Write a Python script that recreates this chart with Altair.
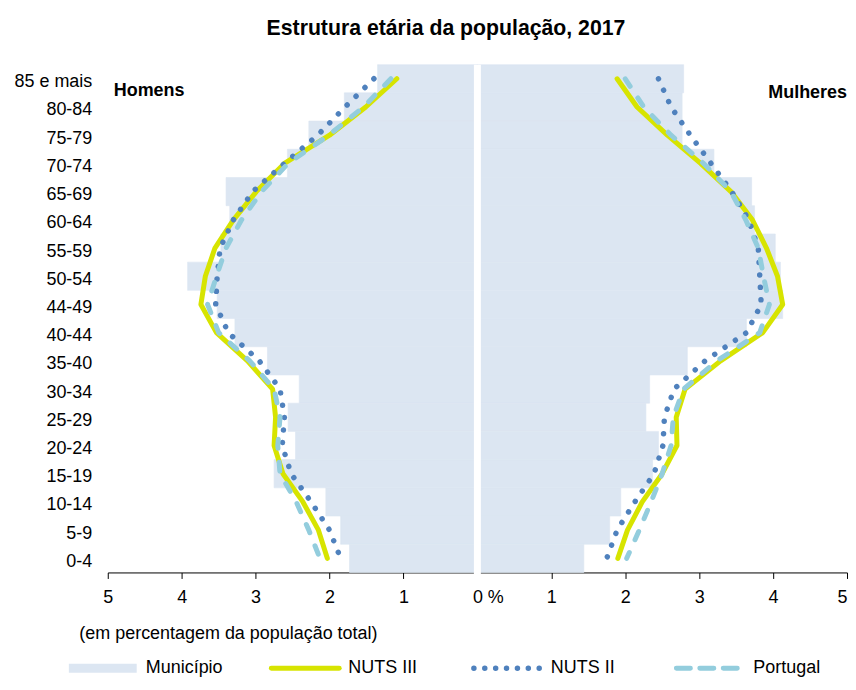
import altair as alt
import pandas as pd

ages = ["85 e mais", "80-84", "75-79", "70-74", "65-69", "60-64", "55-59", "50-54",
        "44-49", "40-44", "35-40", "30-34", "25-29", "20-24", "15-19", "10-14", "5-9", "0-4"]

homens_municipio = [1.35, 1.80, 2.28, 2.57, 3.40, 3.35, 3.47, 3.92, 3.52, 3.28, 2.84, 2.41, 2.56, 2.46, 2.75, 2.05, 1.85, 1.73]
homens_nuts3 = [1.09, 1.51, 2.00, 2.61, 2.99, 3.30, 3.55, 3.68, 3.74, 3.53, 3.11, 2.77, 2.73, 2.75, 2.63, 2.36, 2.15, 2.03]
homens_nuts2 = [1.40, 1.79, 2.16, 2.61, 3.04, 3.30, 3.48, 3.52, 3.54, 3.37, 2.95, 2.67, 2.61, 2.64, 2.52, 2.25, 2.00, 1.85]
homens_portugal = [1.17, 1.54, 2.01, 2.56, 2.92, 3.19, 3.40, 3.53, 3.65, 3.50, 3.08, 2.75, 2.67, 2.70, 2.67, 2.45, 2.28, 2.13]

mulheres_municipio = [2.79, 2.77, 2.77, 3.20, 3.71, 3.75, 4.03, 4.10, 4.13, 3.64, 2.84, 2.33, 2.28, 2.45, 2.37, 1.94, 1.79, 1.44]
mulheres_nuts3 = [1.89, 2.16, 2.57, 3.02, 3.43, 3.72, 3.91, 4.06, 4.13, 3.86, 3.29, 2.81, 2.69, 2.70, 2.50, 2.23, 2.03, 1.90]
mulheres_nuts2 = [2.45, 2.62, 2.88, 3.16, 3.44, 3.67, 3.80, 3.82, 3.84, 3.64, 3.08, 2.66, 2.53, 2.51, 2.39, 2.13, 1.89, 1.75]
mulheres_portugal = [2.00, 2.25, 2.62, 3.06, 3.43, 3.63, 3.80, 3.87, 3.95, 3.82, 3.24, 2.79, 2.65, 2.62, 2.50, 2.35, 2.19, 2.02]

sides = ["Homens", "Mulheres"]
series = ["Município", "NUTS III", "NUTS II", "Portugal"]
x_ticks = [-5, -4, -3, -2, -1, 0, 1, 2, 3, 4, 5]

FONT = "Liberation Sans"
C_MUN = "#dce6f2"
C_N3 = "#d7e400"
C_N2 = "#4f81bd"
C_PT = "#93cddd"

W, H = 741, 509


def frame(h_vals, m_vals):
    rows = []
    for lado, vals in zip(sides, [h_vals, m_vals]):
        for i, (a, v) in enumerate(zip(ages, vals)):
            rows.append({"lado": lado, "idade": a, "ordem": i, "valor": v})
    return pd.DataFrame(rows)


SIGNED = "datum.lado == 'Homens' ? -datum.valor : datum.valor"

xs = alt.Scale(domain=[-5, 5], nice=False)
ys = alt.Scale(domain=ages, paddingInner=0, paddingOuter=0)
xaxis = alt.Axis(
    values=x_ticks,
    labelExpr="datum.value == 0 ? '0 %' : format(abs(datum.value), 'd')",
    labelAlign={"condition": [{"test": "datum.value == 0", "value": "left"},
                              {"test": "datum.value == 5", "value": "right"}],
                "value": "center"},
    labelOffset={"condition": {"test": "datum.value == 0", "value": -5}, "value": 0},
    labelFlush=False,
    labelPadding=10,
    title="(em percentagem da população total)",
    titleX=-29, titleY=52, titleAlign="left", titleBaseline="top",
    titleFontWeight="normal", titleFontSize=18,
)
yaxis = alt.Axis(title=None, domain=False, ticks=False, labelPadding=16, labelOffset=3.5,
                 labelFontSize=18, labelAlign="right")


def enc(ch):
    return ch.transform_calculate(xv=SIGNED).encode(
        x=alt.X("xv:Q", scale=xs, axis=xaxis),
        y=alt.Y("idade:N", scale=ys, axis=yaxis, sort=ages),
    )


bars = enc(alt.Chart(frame(homens_municipio, mulheres_municipio)).mark_bar(
    color=C_MUN, stroke=C_MUN, strokeWidth=0.6)).encode(detail="lado:N")

gap = alt.Chart(pd.DataFrame({"v": [0]})).mark_rule(color="white", strokeWidth=7).encode(
    x=alt.X("v:Q", scale=xs, axis=xaxis),
    y=alt.value(0),
    y2=alt.value(H + 7),
)

l3 = enc(alt.Chart(frame(homens_nuts3, mulheres_nuts3)).mark_line(
    color=C_N3, strokeWidth=5, strokeCap="round", strokeJoin="round")).encode(
    detail="lado:N", order="ordem:Q")
l2 = enc(alt.Chart(frame(homens_nuts2, mulheres_nuts2)).mark_line(
    color=C_N2, strokeWidth=5.5, strokeCap="round", strokeJoin="round",
    strokeDash=[0.01, 12.5])).encode(detail="lado:N", order="ordem:Q")
lp = enc(alt.Chart(frame(homens_portugal, mulheres_portugal)).mark_line(
    color=C_PT, strokeWidth=5, strokeCap="round", strokeJoin="round",
    strokeDash=[9, 14])).encode(detail="lado:N", order="ordem:Q")

lab_h = pd.DataFrame({"lado": ["Homens"], "idade": [ages[0]], "valor": [5], "rotulo": ["Homens"]})
lab_m = pd.DataFrame({"lado": ["Mulheres"], "idade": [ages[0]], "valor": [5], "rotulo": ["Mulheres"]})
txt_h = enc(alt.Chart(lab_h).mark_text(align="left", dx=6, dy=12, fontWeight="bold",
                                       fontSize=18, font=FONT, color="#000")).encode(text="rotulo:N")
txt_m = enc(alt.Chart(lab_m).mark_text(align="right", dx=0, dy=14.5, fontWeight="bold",
                                       fontSize=18, font=FONT, color="#000")).encode(text="rotulo:N")

main = alt.layer(bars, gap, l3, l2, lp, txt_h, txt_m)

# legend below the plot, laid out by its own band scale
leg_df = pd.DataFrame({"serie": series})
lx = alt.Scale(type="band", domain=series, range=[-39, 773], paddingInner=0, paddingOuter=0)
leg_styles = {
    "Município": dict(color=C_MUN, strokeWidth=9, strokeCap="butt"),
    "NUTS III": dict(color=C_N3, strokeWidth=5, strokeCap="round"),
    "NUTS II": dict(color=C_N2, strokeWidth=5.5, strokeCap="round", strokeDash=[0.01, 10.9]),
    "Portugal": dict(color=C_PT, strokeWidth=5, strokeCap="round", strokeDash=[14, 9.5]),
}
LEG_Y = 605
leg_layers = []
for s in series:
    leg_layers.append(
        alt.Chart(leg_df).transform_filter(alt.datum.serie == s).mark_rule(**leg_styles[s]).encode(
            x=alt.X("serie:N", scale=lx, axis=None, bandPosition=0.0),
            x2=alt.X2("serie:N", bandPosition=0.335),
            y=alt.value(LEG_Y),
        )
    )
leg_text = alt.Chart(leg_df).mark_text(align="left", baseline="middle", fontSize=18, font=FONT,
                                       color="#000").encode(
    x=alt.X("serie:N", scale=lx, axis=None, bandPosition=0.38),
    y=alt.value(LEG_Y),
    text="serie:N",
)
legend = alt.layer(*leg_layers, leg_text)

chart = alt.layer(main, legend).resolve_scale(x="independent").properties(
    width=W, height=H,
    title=alt.TitleParams(text="Estrutura etária da população, 2017", fontSize=21.3, fontWeight="bold",
                          font=FONT, anchor="middle", offset=24, dx=-31.5, dy=2, color="#000"),
    padding={"left": 5, "top": 9, "right": 0, "bottom": 0},
).configure_view(stroke=None).configure_axis(
    labelFont=FONT, titleFont=FONT, labelFontSize=18, labelColor="#000", titleColor="#000",
    domainColor="#000", tickColor="#000", tickSize=6, labelPadding=13, grid=False,
)

chart.save("out.html", embed_options={"renderer": "svg", "actions": False})
